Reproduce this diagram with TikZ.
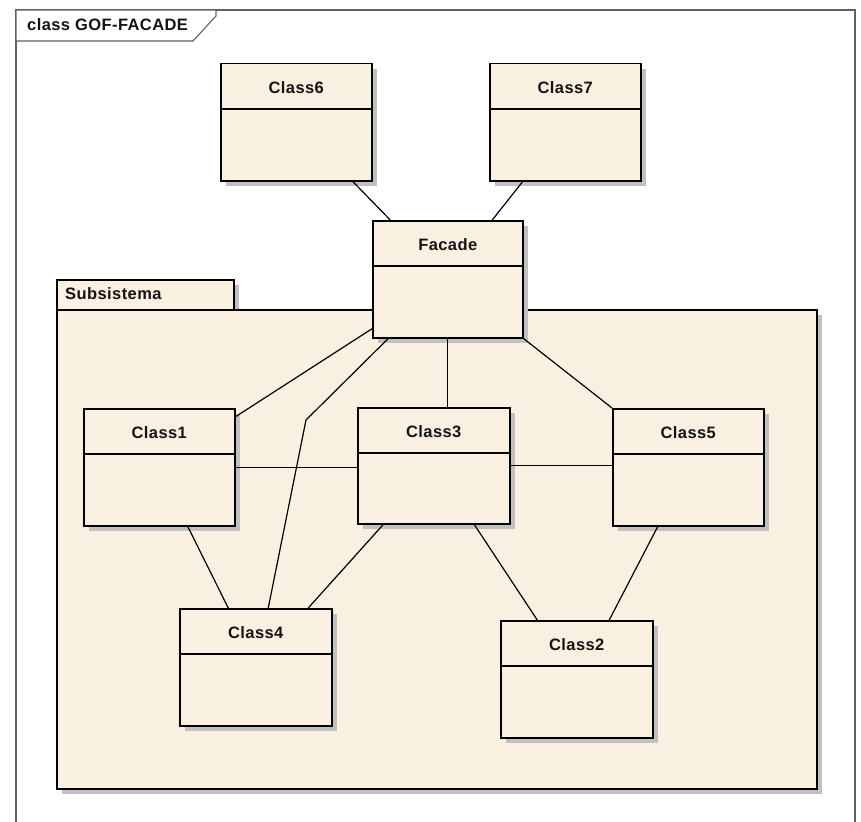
\documentclass[tikz,border=0pt]{standalone}
\usepackage{fontspec}
\setmainfont{Liberation Sans}
\usetikzlibrary{shadows,calc}

\definecolor{classfill}{RGB}{250,240,226}
\definecolor{shadowgray}{RGB}{192,192,192}
\definecolor{framegray}{RGB}{96,96,96}
\definecolor{textblack}{RGB}{20,20,20}

\tikzset{
  boxshadow/.style={drop shadow={shadow xshift=5pt, shadow yshift=-5pt,
      fill=shadowgray, opacity=1}},
  umlclass/.style={draw=black, line width=1.5pt, fill=classfill, boxshadow,
      anchor=north west, inner sep=0pt, minimum width=151pt, minimum height=117pt},
  classname/.style={font=\fontsize{16.5}{19}\selectfont\bfseries\addfontfeature{LetterSpace=2.5},
      text=textblack, inner sep=0pt},
  pkgpart/.style={draw=black, line width=1.7pt, fill=classfill, boxshadow,
      anchor=north west, inner sep=0pt},
  assoc/.style={draw=black, line width=1.2pt},
}

% divider line and name for a class box
\newcommand{\classcompartments}[3]{%
  \draw[line width=1.5pt] ($(#1.north west)+(0pt,-46pt)$) -- ($(#1.north east)+(0pt,-46pt)$);
  \node[classname] (#2) at ($(#1.north)+(0pt,-25pt)$) {#3};
}

\begin{document}
\begin{tikzpicture}[x=1pt, y=-1pt]
  \useasboundingbox (0,0) rectangle (861,821);
  \clip (0,0) rectangle (861,821);
  \fill[white] (0,0) rectangle (861,821);

  % diagram frame and its title tab
  \draw[framegray, line width=1.3pt] (16,10) rectangle (855,830);
  \draw[framegray, line width=1.1pt, fill=white]
    (16,10) -- (216,10) -- (216,16) -- (193,41) -- (16,41) -- cycle;
  \node[classname, anchor=west] (frametitle) at (27,25) {class GOF-FACADE};

  % package Subsistema
  \node[pkgpart, minimum width=177pt, minimum height=30pt] (pkgtab) at (56,279) {};
  \node[pkgpart, minimum width=760pt, minimum height=479pt] (pkg) at (56,309) {};
  \node[classname, anchor=west] (pkgname) at (65,294) {Subsistema};

  % classes
  \node[umlclass] (c6) at (220,63) {};
  \classcompartments{c6}{c6name}{Class6}
  \node[umlclass] (c7) at (489,63) {};
  \classcompartments{c7}{c7name}{Class7}
  \node[umlclass, minimum width=150pt] (fac) at (372,220) {};
  \classcompartments{fac}{facname}{Facade}
  \node[umlclass] (c1) at (83,408) {};
  \classcompartments{c1}{c1name}{Class1}
  \node[umlclass, minimum width=152pt, minimum height=116pt] (c3) at (357,407) {};
  \classcompartments{c3}{c3name}{Class3}
  \node[umlclass] (c5) at (612,408) {};
  \classcompartments{c5}{c5name}{Class5}
  \node[umlclass, minimum width=152pt] (c4) at (179,608) {};
  \classcompartments{c4}{c4name}{Class4}
  \node[umlclass, minimum width=152pt] (c2) at (500,620) {};
  \classcompartments{c2}{c2name}{Class2}

  % associations
  \draw[assoc] ([xshift=56.5pt]c6.south) -- ([xshift=-57.5pt]fac.north);
  \draw[assoc] ([xshift=-42.5pt]c7.south) -- ([xshift=44.5pt]fac.north);
  \draw[assoc] ([yshift=-49.5pt]fac.west) -- ([yshift=50.5pt]c1.east);
  \coordinate (bend) at (306,420);
  \draw[assoc] ([xshift=-59.5pt]fac.south) -- (bend) -- ([xshift=12.5pt]c4.north);
  \draw[assoc] (fac.south) -- (fac.south |- c3.north);
  \draw[assoc] (fac.south east) -- (c5.north west);
  \draw[assoc] (c1.east) -- (c1.east -| c3.west);
  \draw[assoc] (c3.east) -- (c3.east -| c5.west);
  \draw[assoc] ([xshift=28.5pt]c1.south) -- ([xshift=-27.5pt]c4.north);
  \draw[assoc] ([xshift=-50.5pt]c3.south) -- ([xshift=52.5pt]c4.north);
  \draw[assoc] ([xshift=40.5pt]c3.south) -- ([xshift=-39.5pt]c2.north);
  \draw[assoc] ([xshift=-30.5pt]c5.south) -- ([xshift=32.5pt]c2.north);
\end{tikzpicture}
\end{document}
